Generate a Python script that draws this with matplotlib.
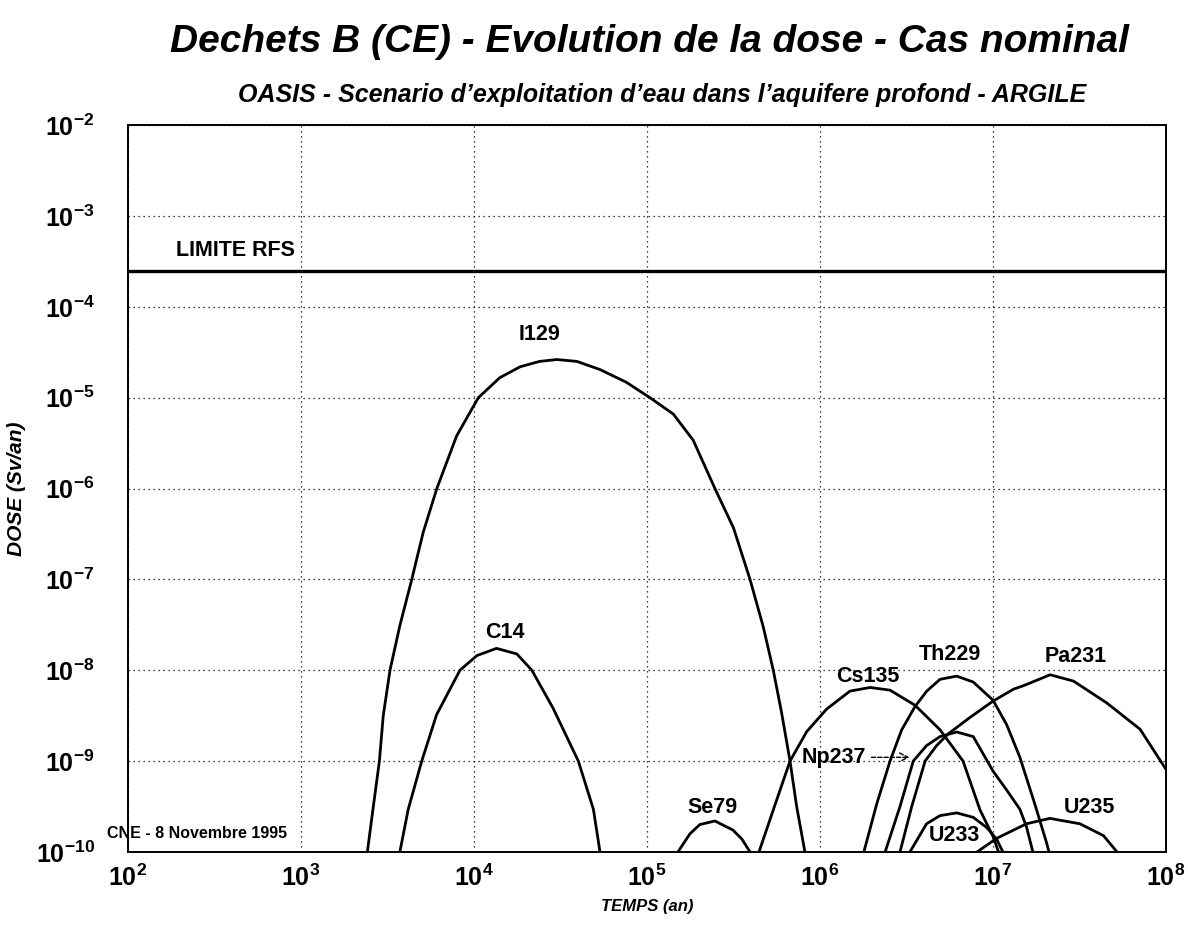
import matplotlib
matplotlib.use("Agg")
import matplotlib.pyplot as plt
from matplotlib.ticker import FixedLocator, FuncFormatter, NullLocator
import numpy as np

plt.rcParams['font.family'] = ['Liberation Sans Narrow', 'Liberation Sans', 'DejaVu Sans']
plt.rcParams['mathtext.fontset'] = 'custom'
plt.rcParams['mathtext.rm'] = 'Liberation Sans:bold'
plt.rcParams['mathtext.bf'] = 'Liberation Sans:bold'
plt.rcParams['mathtext.it'] = 'Liberation Sans:bold:italic'

TITLE = "Dechets B (CE) - Evolution de la dose - Cas nominal"
SUBTITLE = "OASIS - Scenario d\u2019exploitation d\u2019eau dans l\u2019aquifere profond - ARGILE"

# dose limit (Sv/an)
limite_rfs = 2.5e-4

# temps (an) / dose (Sv/an)
i129_t = [2.42e3, 2.62e3, 2.84e3, 2.99e3, 3.27e3, 3.73e3, 4.37e3, 5.09e3, 6.10e3, 7.94e3,
          1.06e4, 1.41e4, 1.85e4, 2.40e4, 3.01e4, 3.93e4, 5.35e4, 7.59e4, 1.04e5, 1.42e5,
          1.85e5, 2.47e5, 3.16e5, 3.94e5, 4.70e5, 5.37e5, 6.00e5, 6.71e5, 7.33e5, 8.18e5]
i129_d = [1e-10, 3.16e-10, 1e-9, 3.16e-9, 1e-8, 3.1e-8, 1e-7, 3.3e-7, 1e-6, 3.8e-6,
          1e-5, 1.66e-5, 2.19e-5, 2.51e-5, 2.63e-5, 2.51e-5, 2.04e-5, 1.48e-5, 1e-5, 6.6e-6,
          3.4e-6, 1e-6, 3.7e-7, 1e-7, 3.0e-8, 1e-8, 3.4e-9, 1e-9, 3.16e-10, 1e-10]

c14_t = [3.73e3, 4.17e3, 4.99e3, 6.08e3, 8.30e3, 1.04e4, 1.35e4, 1.77e4, 2.16e4, 2.87e4,
         4.01e4, 4.90e4, 5.35e4]
c14_d = [1e-10, 2.95e-10, 1e-9, 3.24e-9, 1e-8, 1.45e-8, 1.74e-8, 1.51e-8, 1e-8, 3.8e-9,
         1e-9, 2.95e-10, 1e-10]

se79_t = [1.51e5, 1.77e5, 2.02e5, 2.47e5, 3.14e5, 3.54e5, 3.94e5]
se79_d = [1e-10, 1.58e-10, 2.0e-10, 2.19e-10, 1.74e-10, 1.38e-10, 1e-10]

cs135_t = [4.44e5, 5.37e5, 6.71e5, 8.38e5, 1.09e6, 1.49e6, 1.95e6, 2.54e6, 3.54e6, 4.94e6,
           6.71e6, 8.41e6, 1.0e7, 1.10e7]
cs135_d = [1e-10, 2.9e-10, 1e-9, 2.11e-9, 3.72e-9, 5.89e-9, 6.46e-9, 6.03e-9, 4.12e-9, 2.21e-9,
           1e-9, 2.9e-10, 1.48e-10, 0.89e-10]

th229_t = [1.78e6, 2.13e6, 2.54e6, 2.96e6, 3.54e6, 4.14e6, 4.94e6, 6.17e6, 7.69e6, 1.0e7,
           1.2e7, 1.43e7, 1.75e7, 2.04e7, 2.14e7]
th229_d = [0.95e-10, 3.4e-10, 1e-9, 2.19e-9, 3.98e-9, 5.89e-9, 7.94e-9, 8.61e-9, 7.41e-9, 4.68e-9,
           2.51e-9, 1.1e-9, 3.3e-10, 1.26e-10, 0.89e-10]

np237_t = [2.38e6, 2.90e6, 3.46e6, 4.13e6, 4.94e6, 6.17e6, 7.69e6, 1.0e7, 1.2e7, 1.43e7,
           1.56e7, 1.70e7]
np237_d = [1e-10, 3.16e-10, 1e-9, 1.48e-9, 1.86e-9, 2.09e-9, 1.86e-9, 7.76e-10, 4.79e-10, 2.95e-10,
           1.9e-10, 1e-10]

pa231_t = [2.90e6, 3.39e6, 4.05e6, 4.72e6, 5.52e6, 7.36e6, 1.0e7, 1.31e7, 1.50e7, 2.14e7,
           2.92e7, 4.54e7, 7.08e7, 1.0e8]
pa231_d = [1e-10, 3.16e-10, 1e-9, 1.48e-9, 2.0e-9, 3.02e-9, 4.57e-9, 6.17e-9, 6.76e-9, 8.91e-9,
           7.59e-9, 4.37e-9, 2.24e-9, 8.1e-10]

u233_t = [3.31e6, 4.13e6, 4.94e6, 6.17e6, 7.69e6, 9.18e6, 1.05e7, 1.14e7]
u233_d = [1e-10, 2.04e-10, 2.51e-10, 2.69e-10, 2.4e-10, 1.86e-10, 1.38e-10, 1e-10]

u235_t = [8.09e6, 1.05e7, 1.56e7, 2.13e7, 3.18e7, 4.35e7, 5.21e7]
u235_d = [1e-10, 1.41e-10, 2.04e-10, 2.34e-10, 2.04e-10, 1.51e-10, 1e-10]

curves = [(i129_t, i129_d), (c14_t, c14_d), (se79_t, se79_d), (cs135_t, cs135_d),
          (th229_t, th229_d), (np237_t, np237_d), (pa231_t, pa231_d),
          (u233_t, u233_d), (u235_t, u235_d)]

# label text and where it sits (temps, dose)
labels = [("I129", 2.4e4, 5.0e-5), ("C14", 1.5e4, 2.6e-8), ("Se79", 2.4e5, 3.1e-10),
          ("Cs135", 1.9e6, 8.5e-9), ("Th229", 5.6e6, 1.5e-8), ("Pa231", 3.0e7, 1.4e-8),
          ("U233", 6.0e6, 1.5e-10), ("U235", 3.6e7, 3.1e-10)]

fig = plt.figure(figsize=(11.88, 9.27), dpi=100)
ax = fig.add_axes([0.1077, 0.081, 0.8738, 0.784])

ax.set_xscale('log')
ax.set_yscale('log')
ax.set_xlim(1e2, 1e8)
ax.set_ylim(1e-10, 1e-2)

for t, d in curves:
    ax.plot(t, d, color='black', lw=2.0, solid_joinstyle='round', solid_capstyle='round')

ax.axhline(limite_rfs, color='black', lw=2.4)
ax.text(1.9e2, 3.2e-4, "LIMITE RFS", fontsize=15.5, fontweight='bold', ha='left', va='bottom')

for name, x, y in labels:
    ax.text(x, y, name, fontsize=15.5, fontweight='bold', ha='center', va='center')

ax.annotate("Np237", xy=(3.3e6, 1.1e-9), xytext=(1.2e6, 1.1e-9),
            fontsize=15.5, fontweight='bold', ha='center', va='center',
            arrowprops=dict(arrowstyle='->', color='black', lw=1.0, linestyle=(0, (3, 1.5)),
                            shrinkA=2, shrinkB=0))

xt = [10.0 ** k for k in range(2, 9)]
yt = [10.0 ** k for k in range(-10, -1)]
ax.xaxis.set_major_locator(FixedLocator(xt))
ax.yaxis.set_major_locator(FixedLocator(yt))
ax.xaxis.set_minor_locator(NullLocator())
ax.yaxis.set_minor_locator(NullLocator())
fmt = FuncFormatter(lambda v, p: r'$\mathbf{10^{%d}}$' % int(round(np.log10(v))))
ax.xaxis.set_major_formatter(fmt)
ax.yaxis.set_major_formatter(fmt)
ax.tick_params(axis='both', length=0, labelsize=18)
ax.tick_params(axis='y', pad=24)
ax.tick_params(axis='x', pad=9)

ax.grid(True, which='major', color='black', linestyle=(0, (1, 3)), lw=0.9)
for sp in ax.spines.values():
    sp.set_linewidth(1.4)

ax.set_xlabel("TEMPS (an)", fontsize=12, fontweight='bold', style='italic', labelpad=6)
ax.set_ylabel("DOSE (Sv/an)", fontsize=15, fontweight='bold', style='italic')
ax.yaxis.set_label_coords(-0.098, 0.5)

fig.text(0.547, 0.955, TITLE, fontsize=28, fontweight='bold', style='italic', ha='center', va='center')
fig.text(0.557, 0.898, SUBTITLE, fontsize=18, fontweight='bold', style='italic', ha='center', va='center')
fig.text(0.090, 0.101, "CNE - 8 Novembre 1995", fontsize=11.5, fontweight='bold', ha='left', va='center')

fig.savefig("out.png", dpi=100)
